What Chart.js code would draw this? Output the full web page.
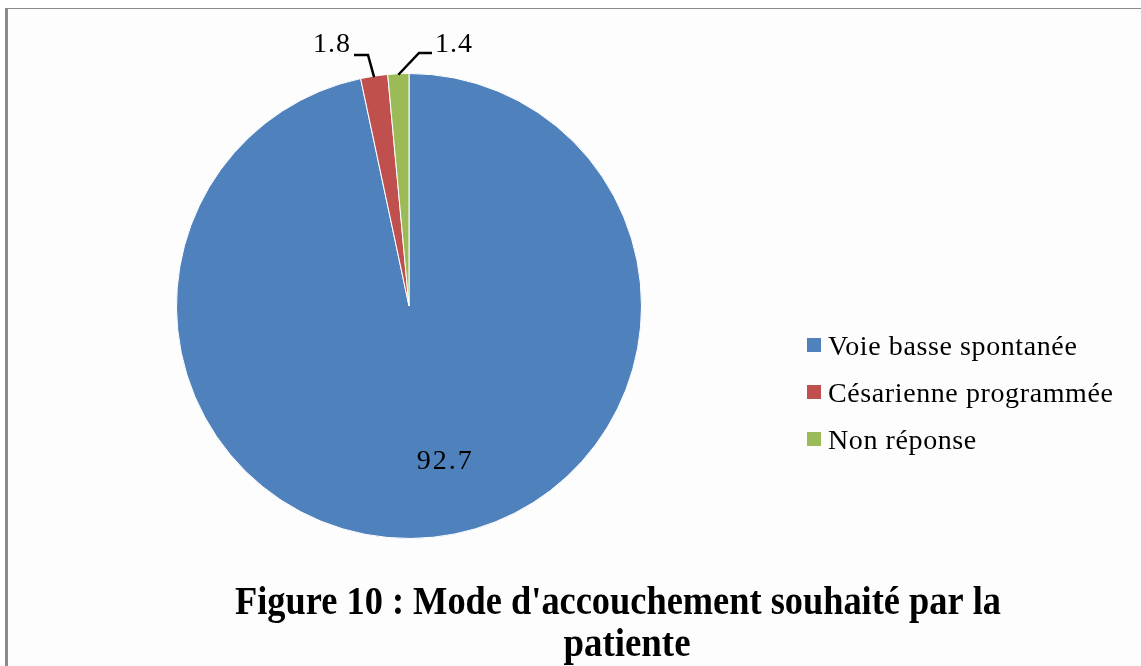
<!DOCTYPE html>
<html>
<head>
<meta charset="utf-8">
<script src="https://cdn.jsdelivr.net/npm/chart.js@4"></script>
<style>
    html, body { margin: 0; padding: 0; background: #fff; }
    .frame {
        position: absolute; left: 5px; top: 8px; width: 1134px; height: 660px;
        border-left: 3px solid #8a8a8a; border-top: 1px solid #8a8a8a; border-right: 1px solid #8a8a8a;
        background: #fdfdfd;
    }
    canvas { position: absolute; left: 0; top: 0; }
</style>
</head>
<body>
<div class="frame"></div>
<canvas id="pie" width="1141" height="666"></canvas>
<script>
const categories = ['Voie basse spontanée', 'Césarienne programmée', 'Non réponse'];
const values = [92.7, 1.8, 1.4];
const colors = ['#4F81BD', '#C0504D', '#9BBB59'];
const titleLines = ["Figure 10 : Mode d'accouchement souhaité par la", 'patiente'];

const serif = '"Liberation Serif", "DejaVu Serif", serif';

// fit text horizontally into a given width (caption is condensed)
function fitText(ctx, text, cx, y, width) {
    const w = ctx.measureText(text).width;
    ctx.save();
    ctx.translate(cx, y);
    ctx.scale(width / w, 1);
    ctx.fillText(text, 0, 0);
    ctx.restore();
}

// labels, leader lines, legend and caption
const decorations = {
    id: 'decorations',
    afterDraw(chart) {
        const ctx = chart.ctx;
        const arcs = chart.getDatasetMeta(0).data;
        ctx.save();
        ctx.fillStyle = '#000';
        ctx.font = `28px ${serif}`;
        ctx.textBaseline = 'middle';
        ctx.textAlign = 'center';

        // big slice: label inside
        const a0 = (arcs[0].startAngle + arcs[0].endAngle) / 2;
        const r0 = arcs[0].outerRadius * 0.67;
        ctx.letterSpacing = '2px';
        ctx.fillText(values[0].toFixed(1), arcs[0].x + Math.cos(a0) * r0 + 20, arcs[0].y + Math.sin(a0) * r0 + 1);

        // small slices: label outside with leader line
        const outside = [
            { i: 1, tx: 332, ty: 45, elbow: [[354, 55], [368, 55]] },
            { i: 2, tx: 454, ty: 45, elbow: [[432, 53], [419, 53]] }
        ];
        ctx.letterSpacing = '1px';
        ctx.strokeStyle = '#000';
        ctx.lineWidth = 2.5;
        outside.forEach(o => {
            const arc = arcs[o.i];
            const mid = (arc.startAngle + arc.endAngle) / 2;
            const ex = arc.x + Math.cos(mid) * arc.outerRadius;
            const ey = arc.y + Math.sin(mid) * arc.outerRadius;
            ctx.beginPath();
            ctx.moveTo(o.elbow[0][0], o.elbow[0][1]);
            ctx.lineTo(o.elbow[1][0], o.elbow[1][1]);
            ctx.lineTo(ex, ey + 1);
            ctx.stroke();
            ctx.fillText(values[o.i].toFixed(1), o.tx, o.ty);
        });

        // legend
        ctx.textAlign = 'left';
        ctx.textBaseline = 'alphabetic';
        ctx.letterSpacing = '0.6px';
        categories.forEach((c, i) => {
            const y = 345 + i * 47;
            ctx.fillStyle = colors[i];
            ctx.fillRect(807, y - 7, 14, 14);
            ctx.fillStyle = '#000';
            ctx.fillText(c, 828, y + 10);
        });

        // caption
        ctx.letterSpacing = '0px';
        ctx.textAlign = 'center';
        ctx.font = `bold 39px ${serif}`;
        fitText(ctx, titleLines[0], 618, 614, 766);
        fitText(ctx, titleLines[1], 627, 656, 127);
        ctx.restore();
    }
};

new Chart(document.getElementById('pie'), {
    type: 'pie',
    data: {
        labels: categories,
        datasets: [{
            data: values,
            backgroundColor: colors,
            borderColor: '#ffffff',
            borderWidth: 1
        }]
    },
    options: {
        responsive: false,
        animation: false,
        layout: { padding: { left: 176, right: 499, top: 73, bottom: 127 } },
        plugins: {
            legend: { display: false },
            tooltip: { enabled: false }
        }
    },
    plugins: [decorations]
});
</script>
</body>
</html>
